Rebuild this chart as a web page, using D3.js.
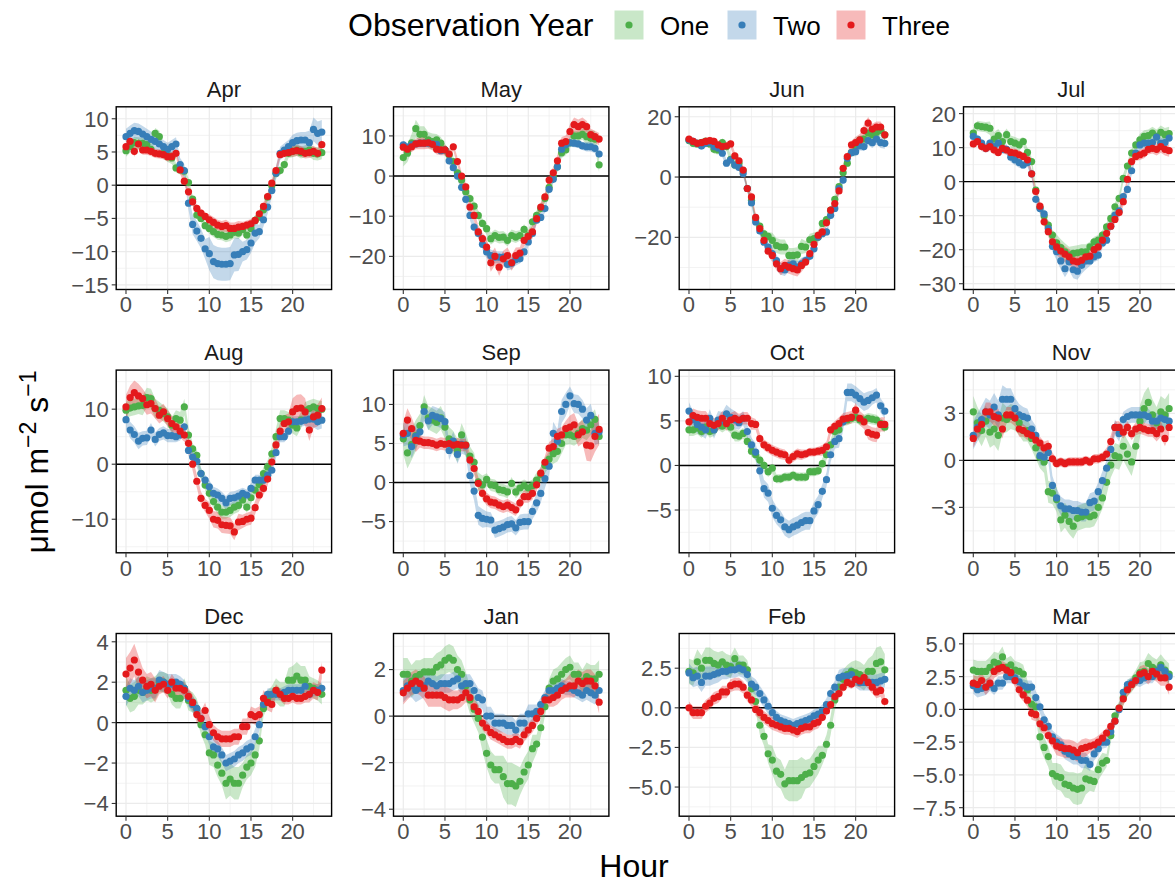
<!DOCTYPE html>
<html>
<head>
<meta charset="utf-8">
<script src="https://cdn.jsdelivr.net/npm/d3@7"></script>
<style>
body { margin: 0; background: #fff; }
svg { display: block; font-family: "Liberation Sans", Arial, Helvetica, sans-serif; }
</style>
</head>
<body>
<svg id="chart" width="1175" height="884"></svg>
<script>
// half-hourly time of day
const HOURS = [0,0.5,1,1.5,2,2.5,3,3.5,4,4.5,5,5.5,6,6.5,7,7.5,8,8.5,9,9.5,10,10.5,11,11.5,
               12,12.5,13,13.5,14,14.5,15,15.5,16,16.5,17,17.5,18,18.5,19,19.5,20,20.5,21,21.5,22,22.5,23,23.5];
const MONTHS = ["Apr","May","Jun","Jul","Aug","Sep","Oct","Nov","Dec","Jan","Feb","Mar"];
const YEARS = ["One","Two","Three"];
const X_TICKS = [0,5,10,15,20];

// mean flux, one array per month and observation year
const aprOne = [5.2,5.8,6.4,6.3,6.3,6.1,5.4,7.8,7.3,4.8,4.4,4.1,2.6,2.3,2.1,0.4,-2.1,-4.5,-5.0,-6.1,-6.5,-7.0,-7.4,-7.5,-7.7,-7.5,-7.1,-7.2,-6.7,-7.5,-6.5,-5.3,-4.8,-3.7,-1.8,-0.1,1.8,2.2,3.1,4.8,5.1,5.3,4.9,5.1,5.3,4.8,4.7,4.9];
const aprTwo = [7.3,7.8,8.2,8.1,7.7,7.3,6.9,6.6,6.2,5.8,5.4,5.8,6.2,3.1,2.2,-2.7,-5.9,-6.9,-8.0,-9.6,-10.3,-11.5,-11.8,-11.9,-11.9,-11.8,-10.5,-10.4,-10.0,-9.7,-8.7,-7.2,-7.0,-5.2,-3.3,-0.8,1.8,4.8,5.3,5.8,6.4,6.7,6.8,6.8,6.4,8.4,7.8,8.0];
const aprThree = [5.8,6.6,5.1,6.2,5.3,5.3,5.1,4.8,4.7,4.6,4.3,4.3,4.8,2.3,0.6,-1.0,-2.5,-3.5,-4.2,-4.7,-5.2,-5.6,-6.0,-6.2,-6.1,-6.5,-6.5,-6.3,-6.2,-6.0,-5.8,-5.3,-4.3,-3.2,-1.7,0.3,2.2,4.6,4.8,4.9,5.1,5.2,5.1,4.8,4.9,5.1,4.8,6.1];
const mayOne = [4.6,5.7,8.3,11.8,10.4,10.4,9.0,8.6,9.0,8.2,6.5,5.3,3.6,0.8,-1.0,-3.9,-5.6,-7.5,-9.8,-11.8,-13.1,-15.6,-14.8,-15.3,-15.2,-16.0,-14.8,-15.2,-14.8,-13.3,-14.8,-11.4,-9.8,-8.1,-5.6,-2.8,-0.2,2.3,5.8,6.5,8.3,10.0,10.0,10.4,9.8,9.4,9.2,2.8];
const mayTwo = [7.8,7.2,7.8,8.0,8.2,8.2,8.2,8.0,7.9,6.3,6.5,3.8,2.1,0,-2.8,-5.8,-9.8,-12.7,-14.3,-17.0,-18.9,-19.8,-20.2,-20.2,-20.2,-22.0,-21.7,-20.8,-20.6,-18.9,-16.4,-14.3,-11.0,-10.3,-8.1,-3.3,-0.8,2.3,6.7,7.8,8.3,8.2,8.0,7.5,7.3,7.3,6.9,5.5];
const mayThree = [7.2,6.7,7.3,8.0,8.2,8.2,8.3,7.9,6.7,6.5,6.5,5.5,7.3,3.6,0,-2.7,-7.7,-9.8,-13.9,-15.6,-17.7,-21.6,-20.0,-22.7,-20.6,-19.8,-21.6,-19.8,-19.2,-16.0,-15.0,-13.9,-10.6,-7.7,-5.2,-1.0,0.8,3.8,8.2,8.6,11.1,12.8,12.3,12.8,12.3,10.3,9.8,9.2];
const junOne = [12.1,11.2,11.0,11.4,11.8,11.0,9.2,9.0,11.4,10.1,5.9,4.0,4.6,2.1,-3.8,-7.7,-13.8,-16.3,-18.8,-19.7,-21.0,-22.7,-23.2,-23.2,-26.0,-26.0,-25.8,-23.0,-23.2,-20.8,-20.4,-19.9,-15.4,-14.1,-11.0,-7.4,-3.2,1.4,4.6,8.1,10.1,12.3,12.6,14.6,14.0,14.8,15.4,14.0];
const junTwo = [12.3,11.8,11.2,10.3,11.2,11.4,10.1,9.6,7.9,4.6,5.7,4.0,3.2,1.2,-3.8,-8.6,-14.9,-17.9,-21.6,-23.2,-25.4,-27.7,-30.4,-30.8,-29.3,-28.8,-29.9,-28.8,-27.7,-26.3,-23.8,-19.9,-18.8,-18.2,-12.7,-10.4,-3.8,-1.0,6.2,8.1,8.4,10.3,10.1,12.1,11.4,12.6,11.4,11.2];
const junThree = [12.6,11.8,11.2,11.4,11.8,12.1,11.8,10.7,10.1,10.3,11.0,7.0,5.4,2.3,-3.8,-6.6,-13.4,-17.1,-21.0,-24.6,-26.0,-28.8,-30.4,-29.3,-29.9,-30.4,-30.8,-29.3,-28.2,-25.4,-22.3,-19.3,-18.2,-15.2,-11.0,-8.8,-4.6,2.9,6.8,10.7,11.4,12.3,15.4,17.9,15.9,16.6,16.6,14.0];
const julOne = [14.3,16.4,16.2,16.0,15.7,12.5,13.5,11.8,13.8,11.8,11.3,10.8,11.8,8.6,5.9,-2.5,-7.6,-10.1,-12.8,-15.7,-18.0,-19.4,-20.6,-21.6,-21.1,-20.9,-20.6,-20.6,-19.2,-17.7,-17.2,-15.7,-13.3,-10.8,-7.4,-4.9,1.0,4.6,8.4,10.8,12.3,13.3,13.5,14.3,13.3,14.5,13.8,14.1];
const julTwo = [13.3,12.5,11.3,9.8,11.3,10.3,11.3,9.5,9.5,7.2,6.4,5.6,4.9,5.6,2.3,-5.2,-7.9,-9.5,-13.8,-19.0,-20.6,-23.3,-25.6,-23.6,-25.9,-26.3,-24.6,-23.3,-23.3,-22.1,-21.6,-18.0,-17.2,-13.1,-9.8,-8.6,-4.4,-2.3,3.2,8.4,10.8,11.3,11.3,11.5,13.1,11.3,11.5,12.8];
const julThree = [11.1,11.8,10.3,9.8,10.3,9.3,8.6,9.8,9.3,8.6,8.4,7.9,7.4,6.4,2.3,-2.9,-7.2,-11.8,-14.7,-17.7,-19.2,-20.4,-21.3,-22.1,-23.3,-23.6,-23.1,-22.1,-21.9,-20.0,-19.2,-17.2,-15.2,-13.1,-11.1,-9.1,-5.9,0.7,5.9,7.4,7.9,8.4,9.5,9.8,9.5,10.3,9.5,9.1];
const augOne = [9.8,10.2,10.4,10.6,10.7,12.1,11.9,10.1,9.8,9.2,8.6,7.1,8.3,8.0,10.4,5.3,2.8,1.6,-1.7,-3.8,-5.3,-6.8,-7.8,-8.7,-8.7,-8.4,-7.8,-7.5,-6.5,-7.8,-6.1,-4.7,-3.7,-1.7,-0.5,1.9,5.0,8.3,8.3,8.0,7.1,6.6,8.0,9.8,10.1,10.4,10.1,10.0];
const augTwo = [8.1,6.2,5.4,4.2,4.7,4.8,6.2,4.5,5.4,5.7,5.2,5.2,5.0,5.3,6.8,2.5,1.3,0.5,-1.7,-2.9,-4.1,-5.3,-5.6,-6.2,-7.0,-6.2,-6.1,-5.8,-5.3,-5.6,-4.4,-2.9,-2.9,-2.9,-2.0,-1.1,2.1,5.0,5.0,6.0,7.7,7.7,7.8,8.0,8.2,8.2,7.7,8.0];
const augThree = [10.4,12.1,13.0,12.4,11.9,10.8,11.0,10.1,8.9,9.5,8.3,7.4,6.8,6.0,5.3,3.8,0,-3.1,-6.2,-7.5,-8.4,-10.0,-10.2,-11.0,-11.1,-11.2,-12.3,-10.5,-10.4,-10.0,-9.8,-7.9,-5.6,-4.4,-2.7,0.4,3.5,6.0,7.4,7.7,9.5,10.1,10.2,9.5,6.2,8.6,8.9,10.1];
const sepOne = [5.6,3.8,4.9,6.0,7.3,9.7,8.3,8.0,7.7,8.3,7.1,5.6,5.1,4.1,6.1,4.8,3.4,2.6,0.1,-0.3,0.4,-0.3,-0.4,-0.9,-1.0,-1.2,-0.1,-1.2,-0.7,-0.4,-0.7,-0.4,0.3,1.0,2.2,3.0,3.7,4.0,5.0,6.1,6.1,5.9,6.3,6.9,6.7,7.4,8.1,5.9];
const sepTwo = [6.1,6.3,4.6,5.9,6.5,9.1,7.9,8.6,8.4,8.2,7.8,4.1,5.3,3.6,4.9,4.7,0.9,-1.1,-4.2,-4.6,-4.7,-4.8,-6.1,-5.9,-5.7,-5.4,-5.3,-5.8,-5.1,-5.0,-5.0,-3.7,-2.6,-1.4,0.5,2.1,6.3,5.3,9.1,10.0,11.1,10.1,10.0,9.4,8.0,8.6,6.3,6.5];
const sepThree = [6.3,8.0,6.9,5.4,5.3,5.1,5.1,5.0,4.8,5.0,4.9,5.0,4.8,4.9,4.8,4.8,2.9,1.8,-0.1,-1.4,-2.1,-2.5,-2.6,-2.9,-3.1,-2.9,-3.2,-3.5,-2.6,-1.8,-1.8,-1.4,-0.3,1.2,2.6,4.4,4.6,5.9,6.1,6.9,7.1,7.4,6.1,6.5,4.8,4.7,5.9,6.8];
const octOne = [4.0,4.0,4.2,3.8,4.3,3.8,4.0,4.7,4.4,4.7,4.3,3.4,3.3,3.6,2.7,1.6,1.2,0.6,0,-0.7,-0.3,-1.5,-1.5,-1.3,-1.3,-1.1,-1.3,-1.3,-1.3,-0.7,-0.7,-0.6,0.2,1.2,2.3,3.8,4.0,5.0,5.1,5.3,5.4,5.1,5.1,5.3,5.2,5.1,4.7,4.3];
const octTwo = [6.1,5.1,4.6,4.3,4.0,5.3,4.0,5.1,5.0,5.8,5.4,5.1,4.8,5.3,3.8,2.3,1.5,-0.6,-2.6,-3.1,-4.8,-5.6,-6.1,-6.9,-7.2,-6.9,-6.7,-6.4,-6.2,-6.2,-5.1,-4.4,-2.9,-1.6,1.2,2.7,3.0,4.9,8.2,8.2,7.9,7.5,7.1,7.3,7.6,7.9,6.7,6.1];
const octThree = [4.9,5.6,5.4,5.3,5.3,4.7,4.5,4.7,5.3,4.7,5.1,5.3,5.1,5.3,5.3,4.7,4.6,3.0,2.3,2.0,1.7,1.5,1.3,1.2,0.6,1.0,1.3,1.2,1.3,1.5,1.5,1.6,1.7,2.1,4.0,4.4,4.7,5.2,5.3,5.4,6.2,5.3,4.9,3.7,3.5,3.4,4.6,4.6];
const novOne = [3.1,2.4,1.9,2.5,1.8,2.0,1.6,2.7,2.6,2.8,2.7,2.4,1.9,1.9,1.4,0.8,0.2,-0.1,-2.0,-2.1,-2.5,-3.8,-3.5,-3.9,-4.2,-3.7,-3.6,-3.5,-3.6,-3.5,-3.0,-2.4,-1.4,-0.3,0.3,0.2,0.9,0.4,-0.1,0.9,2.5,3.3,3.7,2.9,2.4,3.1,2.9,3.3];
const novTwo = [1.6,2.1,2.6,3.1,2.9,3.4,2.9,3.9,3.9,3.9,3.3,2.9,2.8,2.7,2.0,1.6,0.3,0.2,0.5,-1.6,-2.4,-2.9,-3.1,-3.1,-3.2,-3.2,-3.3,-3.3,-2.7,-2.6,-2.0,-1.3,-0.5,0.7,2.1,1.7,2.6,2.8,2.9,2.9,2.9,2.9,2.8,2.5,2.5,2.7,2.6,2.5];
const novThree = [1.4,2.0,2.3,3.1,3.1,2.8,2.7,2.0,2.9,2.9,2.7,2.0,1.9,1.7,1.6,1.3,1.1,0.8,0.9,0.1,-0.2,-0.1,-0.2,-0.1,-0.1,-0.1,-0.1,0,-0.1,0.1,0.1,0.2,0.4,1.2,2.1,2.1,1.8,2.1,1.7,2.0,2.1,2.0,1.9,1.9,1.7,2.0,1.4,2.1];
const decOne = [1.6,1.2,1.3,1.6,1.5,1.7,1.6,1.7,2.0,2.0,1.9,1.4,1.2,1.2,1.7,1.1,1.0,0.7,-0.1,-0.6,-1.5,-1.6,-2.1,-2.5,-3.0,-2.8,-3.0,-3.0,-2.6,-2.2,-2.0,-1.6,-0.9,0.7,1.2,1.4,1.6,1.4,1.4,2.1,2.1,2.3,2.1,2.1,1.8,1.7,1.6,1.4];
const decTwo = [1.3,1.7,1.6,1.8,1.5,1.6,1.7,1.7,2.1,2.0,1.9,1.9,2.0,1.9,1.7,1.2,0.9,0.7,0.2,-0.2,-0.7,-1.2,-1.3,-1.6,-2.0,-1.9,-1.8,-1.6,-1.5,-1.3,-1.2,-0.7,-0.1,0.9,1.4,1.4,1.4,1.4,1.5,1.6,1.6,1.6,1.6,1.8,1.4,1.6,1.6,1.7];
const decThree = [2.4,2.7,3.1,2.5,2.1,1.8,1.9,1.6,1.8,1.9,1.6,2.0,1.7,1.7,1.6,1.3,1.0,0.4,0.2,0.6,-0.1,-0.5,-0.7,-0.8,-0.8,-0.8,-0.7,-0.7,-0.2,-0.2,0.4,0.3,0.4,1.2,1.0,0.9,1.6,1.4,1.2,1.2,1.3,1.2,1.2,1.3,1.4,1.6,1.5,2.6];
const janOne = [1.8,1.8,1.5,1.7,1.8,1.9,1.9,1.9,2.1,2.2,2.4,2.5,2.4,2.0,1.8,1.3,0.7,0.3,-0.1,-0.9,-1.6,-2.1,-2.3,-2.3,-2.6,-2.9,-2.9,-3.0,-2.8,-2.4,-2.1,-1.4,-1.2,-0.5,0.4,1.2,1.5,1.6,1.8,2.0,2.1,1.8,1.8,1.5,1.7,1.6,1.6,1.8];
const janTwo = [1.1,1.3,1.3,1.1,1.2,1.3,1.5,1.4,1.3,1.4,1.4,1.4,1.5,1.6,1.3,1.4,1.4,1.1,0.8,0.7,0,0,-0.3,-0.3,-0.3,-0.4,-0.4,-0.6,-0.3,-0.3,0.1,0.1,0.2,0.5,0.8,1.1,1.1,1.2,1.3,1.2,1.2,1.1,1.0,0.9,1.1,1.0,0.9,1.1];
const janThree = [1.0,1.2,1.4,1.5,1.4,1.2,0.9,0.9,0.9,0.9,0.8,0.7,0.7,0.7,0.8,1.0,0.8,0.4,0.2,-0.3,-0.5,-0.7,-0.8,-0.9,-1.0,-1.1,-1.1,-1.0,-1.1,-0.8,-0.6,-0.4,-0.1,0.2,0.7,0.7,0.8,0.9,1.1,1.2,1.3,1.3,1.5,1.4,1.5,1.5,1.3,0.6];
const febOne = [2.3,2.2,2.9,2.5,3.0,3.0,2.8,2.7,2.9,2.7,2.6,3.1,2.7,2.7,2.4,1.2,0.4,-1.1,-1.8,-2.9,-3.3,-4.0,-4.2,-4.8,-4.6,-4.6,-4.6,-4.4,-4.2,-4.1,-3.7,-3.3,-3.0,-2.3,-1.1,0.5,1.3,1.8,2.1,2.3,2.2,2.1,1.9,2.3,2.3,2.8,2.9,2.4];
const febTwo = [2.2,1.9,2.0,1.6,2.0,2.0,2.1,2.2,2.3,2.3,2.4,2.4,2.5,2.4,2.1,1.5,1.3,0.9,0.5,0.1,-0.3,-0.6,-0.8,-0.9,-1.0,-1.1,-1.0,-0.9,-0.8,-0.7,-0.5,-0.4,-0.2,0.2,0.9,1.3,1.9,2.0,2.0,2.1,1.8,1.6,1.6,1.6,1.6,1.6,1.7,1.8];
const febThree = [0,-0.3,-0.3,-0.3,0.1,0.3,0.6,0.7,1.0,1.0,1.4,1.5,1.5,1.3,0.8,0.5,-0.1,-0.3,-0.6,-0.8,-1.0,-1.1,-1.2,-1.3,-1.3,-1.4,-1.5,-1.3,-1.2,-1.2,-1.0,-0.9,-0.6,-0.2,0.2,0.7,0.9,1.3,1.6,1.5,1.8,1.7,1.9,1.6,1.3,1.0,1.1,0.4];
const marOne = [3.0,2.9,2.9,2.9,3.2,3.6,3.5,4.0,3.2,3.4,3.0,2.9,2.7,1.5,0.4,0.2,-2.1,-2.9,-3.6,-4.9,-5.1,-5.2,-5.7,-5.8,-6.0,-6.1,-6.0,-5.3,-5.4,-5.5,-4.6,-4.1,-3.9,-2.0,-0.5,0.1,0.9,1.6,1.9,2.4,2.8,2.9,3.5,3.2,3.0,3.4,3.0,2.7];
const marTwo = [1.8,1.5,1.6,1.7,1.9,1.6,2.0,2.0,2.5,2.5,2.4,2.1,1.8,1.7,1.7,0.9,0.2,-0.8,-1.3,-2.1,-2.5,-2.7,-3.2,-3.4,-3.6,-3.6,-3.9,-3.9,-4.2,-3.4,-3.0,-2.5,-2.5,-1.7,-0.9,0,1.3,1.9,2.0,2.2,2.2,2.4,2.5,2.5,2.9,3.2,2.9,2.5];
const marThree = [2.0,1.9,2.2,1.7,2.0,2.9,3.1,3.2,3.0,2.8,2.2,1.5,1.1,0.7,-0.3,-0.4,-1.1,-1.4,-2.0,-2.4,-2.8,-2.9,-3.0,-3.0,-3.1,-3.3,-3.0,-2.9,-2.8,-2.7,-2.5,-2.2,-1.8,-1.3,-0.9,0.1,0.8,1.5,1.9,2.2,2.7,2.8,2.5,2.9,2.7,2.4,2.4,1.7];

// ribbon half-width, one value per 2-hour block (00-02, 02-04, ... 22-24)
const aprOneSe = [0.9,0.8,0.9,0.7,0.6,0.8,0.9,0.8,0.6,0.7,0.9,1.0];
const aprTwoSe = [1.2,1.2,1.0,1.0,1.5,2.5,2.5,1.5,1.0,1.0,1.2,1.8];
const aprThreeSe = [0.8,0.7,0.7,0.6,0.6,0.8,0.9,0.7,0.6,0.6,0.8,0.8];
const mayOneSe = [2.2,2.0,1.5,1.2,1.2,1.5,1.5,1.3,1.2,1.3,1.3,2.0];
const mayTwoSe = [1.0,1.0,0.9,0.9,1.2,1.5,1.5,1.2,1.0,1.0,1.0,1.2];
const mayThreeSe = [1.3,1.5,1.3,1.0,1.5,2.2,2.0,1.5,1.2,1.5,1.8,1.5];
const junOneSe = [1.3,1.5,1.5,1.2,1.5,2.5,2.5,2.0,1.3,1.3,1.5,1.8];
const junTwoSe = [1.3,1.3,1.3,1.2,1.5,2.0,2.0,1.5,1.2,1.3,1.5,1.8];
const junThreeSe = [1.2,1.3,1.3,1.2,1.5,2.2,2.2,1.5,1.2,1.3,2.0,1.8];
const julOneSe = [1.5,2.0,1.8,1.3,1.5,2.5,2.2,1.5,1.3,1.3,1.8,2.0];
const julTwoSe = [1.3,1.3,1.5,1.2,1.5,2.5,2.5,1.5,1.2,1.3,1.5,1.5];
const julThreeSe = [1.3,1.3,1.3,1.2,1.5,2.3,2.3,1.5,1.2,1.3,1.5,1.8];
const augOneSe = [1.5,1.8,1.5,1.5,1.0,1.2,1.2,1.0,1.2,1.5,1.5,1.5];
const augTwoSe = [1.5,1.3,1.2,1.0,1.0,1.2,1.2,1.0,1.0,1.0,1.0,1.5];
const augThreeSe = [2.2,1.8,1.5,1.2,1.2,1.5,1.5,1.2,1.2,1.5,2.5,2.0];
const sepOneSe = [2.0,1.5,1.5,1.5,1.2,0.8,0.8,0.8,1.0,1.3,1.2,1.3];
const sepTwoSe = [1.5,1.2,1.2,1.2,1.2,1.0,1.0,1.0,1.2,1.5,1.2,1.5];
const sepThreeSe = [1.5,0.8,0.8,0.8,0.8,0.8,0.8,0.8,0.8,1.0,1.5,2.0];
const octOneSe = [0.7,0.7,0.7,0.6,0.6,0.5,0.5,0.5,0.6,0.6,0.6,0.6];
const octTwoSe = [1.0,1.0,1.0,0.8,1.0,1.0,1.0,1.0,0.8,1.0,1.0,0.8];
const octThreeSe = [0.8,0.8,0.8,0.7,0.6,0.6,0.6,0.5,0.6,0.7,0.8,0.8];
const novOneSe = [1.0,1.0,0.8,0.7,0.7,0.8,0.8,0.7,0.8,0.9,1.0,1.0];
const novTwoSe = [0.9,0.9,0.7,0.6,0.6,0.6,0.6,0.6,0.5,0.5,0.5,0.5];
const novThreeSe = [0.6,0.6,0.5,0.4,0.4,0.3,0.3,0.3,0.4,0.4,0.4,0.5];
const decOneSe = [0.7,0.6,0.5,0.5,0.5,0.6,0.8,0.6,0.4,0.6,0.7,0.5];
const decTwoSe = [0.5,0.5,0.5,0.4,0.4,0.4,0.4,0.4,0.3,0.3,0.3,0.3];
const decThreeSe = [0.8,0.6,0.4,0.4,0.4,0.4,0.4,0.4,0.4,0.3,0.3,0.4];
const janOneSe = [0.7,0.6,0.6,0.6,0.6,0.6,0.9,0.6,0.4,0.5,0.5,0.6];
const janTwoSe = [0.5,0.5,0.4,0.4,0.4,0.4,0.4,0.4,0.3,0.3,0.3,0.4];
const janThreeSe = [0.5,0.5,0.5,0.4,0.3,0.3,0.3,0.3,0.3,0.4,0.5,0.5];
const febOneSe = [0.8,0.8,0.7,0.6,0.6,0.9,1.3,0.9,0.6,0.6,0.8,1.0];
const febTwoSe = [0.6,0.6,0.5,0.5,0.5,0.4,0.4,0.4,0.4,0.5,0.5,0.5];
const febThreeSe = [0.4,0.4,0.4,0.4,0.4,0.4,0.4,0.4,0.3,0.3,0.4,0.4];
const marOneSe = [0.8,0.8,0.7,0.7,0.8,1.0,1.2,0.8,0.5,0.6,0.8,0.8];
const marTwoSe = [0.6,0.5,0.5,0.5,0.5,0.6,0.6,0.5,0.4,0.4,0.5,0.5];
const marThreeSe = [0.6,0.5,0.5,0.5,0.5,0.7,0.7,0.5,0.4,0.5,0.6,0.6];

// free y scales: panel limits and breaks per month
const yLimits = [[-15.7,11.8],[-28.25,17.25],[-37.3,23.3],[-31.7,22.0],
                 [-16.1,17.1],[-9.0,14.4],[-9.8,10.7],[-5.9,5.76],
                 [-4.63,4.41],[-4.3,3.55],[-6.84,4.69],[-8.15,5.79]];
const yTicks = [[-15,-10,-5,0,5,10],[-20,-10,0,10],[-20,0,20],[-30,-20,-10,0,10,20],
                [-10,0,10],[-5,0,5,10],[-5,0,5,10],[-3,0,3],
                [-4,-2,0,2,4],[-4,-2,0,2],[-5,-2.5,0,2.5],[-7.5,-5,-2.5,0,2.5,5]];
const yDecimals = [0,0,0,0,0,0,0,0,0,0,1,1];

const COLORS = ["#4DAF4A", "#377EB8", "#E41A1C"];

const panels = [
    {means: [aprOne, aprTwo, aprThree], se: [aprOneSe, aprTwoSe, aprThreeSe]},
    {means: [mayOne, mayTwo, mayThree], se: [mayOneSe, mayTwoSe, mayThreeSe]},
    {means: [junOne, junTwo, junThree], se: [junOneSe, junTwoSe, junThreeSe]},
    {means: [julOne, julTwo, julThree], se: [julOneSe, julTwoSe, julThreeSe]},
    {means: [augOne, augTwo, augThree], se: [augOneSe, augTwoSe, augThreeSe]},
    {means: [sepOne, sepTwo, sepThree], se: [sepOneSe, sepTwoSe, sepThreeSe]},
    {means: [octOne, octTwo, octThree], se: [octOneSe, octTwoSe, octThreeSe]},
    {means: [novOne, novTwo, novThree], se: [novOneSe, novTwoSe, novThreeSe]},
    {means: [decOne, decTwo, decThree], se: [decOneSe, decTwoSe, decThreeSe]},
    {means: [janOne, janTwo, janThree], se: [janOneSe, janTwoSe, janThreeSe]},
    {means: [febOne, febTwo, febThree], se: [febOneSe, febTwoSe, febThreeSe]},
    {means: [marOne, marTwo, marThree], se: [marOneSe, marTwoSe, marThreeSe]}
].map((p, i) => Object.assign(p, {
    month: MONTHS[i], limits: yLimits[i], ticks: yTicks[i], dec: yDecimals[i]
}));

// layout
const PANEL_W = 215.4, PANEL_H = 182.7;
const COL_X = [116.2, 393.5, 679.2, 963.5];
const ROW_Y = [106.8, 370.1, 633.5];
const TICK_LEN = 4.5;

function fmt(v, dec) {
    let s = v.toFixed(dec);
    return v < 0 ? "\u2212" + s.slice(1) : s;
}

function minorBreaks(major, domain) {
    let step = major[1] - major[0];
    let out = [];
    out.push(major[0] - step / 2);
    for (let i = 0; i < major.length; i++) out.push(major[i] + step / 2);
    return out.filter(v => v >= domain[0] && v <= domain[1]);
}

const svg = d3.select("#chart");
svg.append("rect").attr("width", 1175).attr("height", 884).attr("fill", "#fff");

const xScale = d3.scaleLinear().domain([-1.175, 24.675]).range([0, PANEL_W]);
const xMinor = minorBreaks(X_TICKS, xScale.domain());

panels.forEach((p, idx) => {
    let col = idx % 4, row = Math.floor(idx / 4);
    let g = svg.append("g")
        .attr("transform", "translate(" + COL_X[col] + "," + ROW_Y[row] + ")");
    let y = d3.scaleLinear().domain(p.limits).range([PANEL_H, 0]);

    let clipId = "clip-" + idx;
    g.append("clipPath").attr("id", clipId)
        .append("rect").attr("width", PANEL_W).attr("height", PANEL_H);
    let inner = g.append("g").attr("clip-path", "url(#" + clipId + ")");

    // grid
    inner.selectAll(".ymin").data(minorBreaks(p.ticks, p.limits)).enter()
        .append("line")
        .attr("x1", 0).attr("x2", PANEL_W)
        .attr("y1", d => y(d)).attr("y2", d => y(d))
        .attr("stroke", "#EBEBEB").attr("stroke-width", 0.6);
    inner.selectAll(".xmin").data(xMinor).enter()
        .append("line")
        .attr("y1", 0).attr("y2", PANEL_H)
        .attr("x1", d => xScale(d)).attr("x2", d => xScale(d))
        .attr("stroke", "#EBEBEB").attr("stroke-width", 0.6);
    inner.selectAll(".ymaj").data(p.ticks).enter()
        .append("line")
        .attr("x1", 0).attr("x2", PANEL_W)
        .attr("y1", d => y(d)).attr("y2", d => y(d))
        .attr("stroke", "#EBEBEB").attr("stroke-width", 1.2);
    inner.selectAll(".xmaj").data(X_TICKS).enter()
        .append("line")
        .attr("y1", 0).attr("y2", PANEL_H)
        .attr("x1", d => xScale(d)).attr("x2", d => xScale(d))
        .attr("stroke", "#EBEBEB").attr("stroke-width", 1.2);

    // zero line
    inner.append("line")
        .attr("x1", 0).attr("x2", PANEL_W)
        .attr("y1", y(0)).attr("y2", y(0))
        .attr("stroke", "#000").attr("stroke-width", 1.4);

    // ribbons
    p.means.forEach((vals, s) => {
        let rows = HOURS.map((h, i) => ({h: h, m: vals[i], e: p.se[s][Math.floor(i / 4)]}));
        let area = d3.area()
            .x(d => xScale(d.h))
            .y0(d => y(d.m - d.e))
            .y1(d => y(d.m + d.e));
        inner.append("path")
            .datum(rows)
            .attr("d", area)
            .attr("fill", COLORS[s])
            .attr("fill-opacity", 0.3);
    });

    // points
    p.means.forEach((vals, s) => {
        inner.append("g").selectAll("circle")
            .data(HOURS.map((h, i) => ({h: h, m: vals[i]})))
            .enter()
            .append("circle")
            .attr("cx", d => xScale(d.h))
            .attr("cy", d => y(d.m))
            .attr("r", 3.6)
            .attr("fill", COLORS[s]);
    });

    // border
    g.append("rect")
        .attr("width", PANEL_W).attr("height", PANEL_H)
        .attr("fill", "none").attr("stroke", "#000").attr("stroke-width", 1.4);

    // axes
    g.selectAll(".xtick").data(X_TICKS).enter()
        .append("line")
        .attr("x1", d => xScale(d)).attr("x2", d => xScale(d))
        .attr("y1", PANEL_H).attr("y2", PANEL_H + TICK_LEN)
        .attr("stroke", "#333").attr("stroke-width", 1.1);
    g.selectAll(".xlab").data(X_TICKS).enter()
        .append("text")
        .attr("x", d => xScale(d))
        .attr("y", PANEL_H + 23)
        .attr("text-anchor", "middle")
        .attr("fill", "#4D4D4D")
        .style("font-size", "22px")
        .text(d => d);
    g.selectAll(".ytick").data(p.ticks).enter()
        .append("line")
        .attr("x1", -TICK_LEN).attr("x2", 0)
        .attr("y1", d => y(d)).attr("y2", d => y(d))
        .attr("stroke", "#333").attr("stroke-width", 1.1);
    g.selectAll(".ylab").data(p.ticks).enter()
        .append("text")
        .attr("x", -TICK_LEN - 3)
        .attr("y", d => y(d))
        .attr("dy", "0.36em")
        .attr("text-anchor", "end")
        .attr("fill", "#4D4D4D")
        .style("font-size", "22px")
        .text(d => fmt(d, p.dec));

    // strip
    g.append("text")
        .attr("x", PANEL_W / 2)
        .attr("y", -10)
        .attr("text-anchor", "middle")
        .attr("fill", "#1A1A1A")
        .style("font-size", "22px")
        .text(p.month);
});

// axis titles
svg.append("text")
    .attr("x", 634).attr("y", 877)
    .attr("text-anchor", "middle")
    .style("font-size", "32px")
    .text("Hour");

let yTitle = svg.append("text")
    .attr("transform", "translate(48,462) rotate(-90)")
    .attr("text-anchor", "middle")
    .style("font-size", "32px");
yTitle.append("tspan").text("\u03BCmol m");
yTitle.append("tspan").attr("dy", -12).style("font-size", "23px").text("\u22122");
yTitle.append("tspan").attr("dy", 12).text(" s");
yTitle.append("tspan").attr("dy", -12).style("font-size", "23px").text("\u22121");

// legend
let legend = svg.append("g");
legend.append("text")
    .attr("x", 348).attr("y", 36)
    .style("font-size", "32px")
    .text("Observation Year");
const KEY_X = [629, 742, 851];
YEARS.forEach((name, s) => {
    legend.append("rect")
        .attr("x", KEY_X[s] - 14.5).attr("y", 10.5)
        .attr("width", 29).attr("height", 29)
        .attr("fill", COLORS[s]).attr("fill-opacity", 0.3);
    legend.append("circle")
        .attr("cx", KEY_X[s]).attr("cy", 25)
        .attr("r", 3.6)
        .attr("fill", COLORS[s]);
    legend.append("text")
        .attr("x", KEY_X[s] + 31).attr("y", 34.5)
        .style("font-size", "26px")
        .text(name);
});

// sanity check on the data lengths
panels.forEach(p => p.means.forEach((v, s) => {
    if (v.length !== HOURS.length) throw new Error(p.month + " " + YEARS[s] + " has " + v.length + " values");
}));
</script>
</body>
</html>
